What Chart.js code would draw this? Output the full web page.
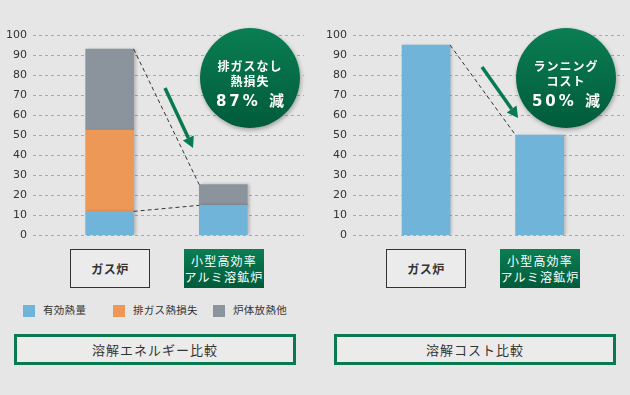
<!DOCTYPE html>
<html>
<head>
<meta charset="utf-8">
<script src="https://cdn.jsdelivr.net/npm/chart.js@4"></script>
<style>
  body { margin: 0; background: #e6e6e6; font-family: "Noto Sans CJK JP", sans-serif; color: #333; }
  #wrap { position: relative; width: 630px; height: 395px; overflow: hidden; }
  .cv { position: absolute; top: 0; }
  .circle {
    position: absolute; width: 100px; height: 100px; border-radius: 50%;
    background: linear-gradient(#0b7e53, #005b3b);
    box-shadow: 1px 2px 4px rgba(0,0,0,0.3);
    color: #fff; text-align: center; font-weight: bold;
  }
  .circle .l { position: absolute; left: 0; width: 100%; font-size: 12px; line-height: 14px; letter-spacing: 1px; }
  .circle .big { font-family: "DejaVu Sans", sans-serif; font-weight: bold; font-size: 15px; line-height: 18px; letter-spacing: 3px; }
  .circle .big b { font-family: "Noto Sans CJK JP"; font-weight: bold; letter-spacing: 0; }
  .cat {
    position: absolute; top: 249px; width: 80px; height: 39px; box-sizing: border-box;
    display: flex; align-items: center; justify-content: center; text-align: center;
    font-size: 12px; white-space: nowrap;
  }
  .cat.gas { border: 1.5px solid #333; background: #ebebeb; font-weight: bold; letter-spacing: 0.5px; }
  .cat.new { background: linear-gradient(#0b7e53, #005b3b); color: #fff; line-height: 16px; letter-spacing: 1.2px; }
  .leg { position: absolute; top: 305px; font-size: 10.5px; line-height: 12px; }
  .leg i { position: absolute; left: 0; top: 0; width: 12px; height: 12px; }
  .leg span { position: absolute; left: 20px; top: -1px; white-space: nowrap; letter-spacing: 0.3px; }
  .title {
    position: absolute; top: 334px; width: 282px; height: 31px; box-sizing: border-box;
    border: 3px solid #087a4f; background: #ebebeb;
    display: flex; align-items: center; justify-content: center; font-size: 13px; letter-spacing: 1px;
  }
</style>
</head>
<body>
<div id="wrap">
  <canvas id="c1" class="cv" style="left:0px" width="310" height="248"></canvas>
  <canvas id="c2" class="cv" style="left:320px" width="310" height="248"></canvas>

  <div class="circle" style="left:200px;top:28px">
    <div class="l" style="top:31px">排ガスなし</div>
    <div class="l" style="top:46px">熱損失</div>
    <div class="l big" style="top:63px">87% <b>減</b></div>
  </div>
  <div class="circle" style="left:516px;top:28px">
    <div class="l" style="top:31px">ランニング</div>
    <div class="l" style="top:46px">コスト</div>
    <div class="l big" style="top:63px">50% <b>減</b></div>
  </div>

  <div class="cat gas" style="left:70px">ガス炉</div>
  <div class="cat new" style="left:184px">小型高効率<br>アルミ溶鉱炉</div>
  <div class="cat gas" style="left:386px">ガス炉</div>
  <div class="cat new" style="left:500px">小型高効率<br>アルミ溶鉱炉</div>

  <div id="legend"></div>

  <div class="title" style="left:14px">溶解エネルギー比較</div>
  <div class="title" style="left:334px">溶解コスト比較</div>
</div>
<script>
// categories
const categories = ["ガス炉", "小型高効率アルミ溶鉱炉"];
// energy chart (stacked)
const usefulHeat = [12, 15];
const exhaustLoss = [40.5, 0];
const bodyLoss = [40.5, 10.3];
// cost chart
const runningCost = [95, 50];
const yTicks = [0, 10, 20, 30, 40, 50, 60, 70, 80, 90, 100];

const BLUE = "#71b4da", ORANGE = "#ee9857", GRAY = "#8b949d", GREEN = "#077a4f";

// legend (HTML)
const legendItems = [["有効熱量", BLUE, 23], ["排ガス熱損失", ORANGE, 113], ["炉体放熱他", GRAY, 213]];
document.getElementById("legend").innerHTML = legendItems.map(([t, c, x]) =>
  `<div class="leg" style="left:${x}px"><i style="background:${c}"></i><span>${t}</span></div>`).join("");

const toPts = arr => arr.map((v, i) => ({ x: i, y: v }));

// bar shadow on the right edge
const shadowPlugin = {
  id: "shadow",
  beforeDatasetsDraw(chart) {
    const ctx = chart.ctx;
    ctx.save();
    ctx.shadowColor = "rgba(0,0,0,0.22)";
    ctx.shadowOffsetX = 2;
    ctx.shadowBlur = 3;
  },
  afterDatasetsDraw(chart) { chart.ctx.restore(); }
};

function drawArrow(ctx, x1, y1, x2, y2) {
  const ang = Math.atan2(y2 - y1, x2 - x1);
  const hl = 11, hw = 6;
  const bx = x2 - hl * Math.cos(ang), by = y2 - hl * Math.sin(ang);
  ctx.save();
  ctx.strokeStyle = GREEN; ctx.fillStyle = GREEN; ctx.lineWidth = 3.5;
  ctx.beginPath(); ctx.moveTo(x1, y1); ctx.lineTo(bx, by); ctx.stroke();
  ctx.beginPath();
  ctx.moveTo(x2, y2);
  ctx.lineTo(bx + hw * Math.sin(ang), by - hw * Math.cos(ang));
  ctx.lineTo(bx - hw * Math.sin(ang), by + hw * Math.cos(ang));
  ctx.closePath(); ctx.fill();
  ctx.restore();
}

function dashed(ctx, a, b) {
  ctx.save();
  ctx.strokeStyle = "#333"; ctx.lineWidth = 1; ctx.setLineDash([4, 3]);
  ctx.beginPath(); ctx.moveTo(a[0], a[1]); ctx.lineTo(b[0], b[1]); ctx.stroke();
  ctx.restore();
}

// connectors: from right edge of first bar to left edge of second bar
function connectorPlugin(topSets, arrow) {
  return {
    id: "connector",
    afterDatasetsDraw(chart) {
      const ctx = chart.ctx;
      topSets.forEach(ds => {
        const m = chart.getDatasetMeta(ds);
        const b0 = m.data[0], b1 = m.data[1];
        dashed(ctx, [b0.x + b0.width / 2, b0.y], [b1.x - b1.width / 2, b1.y]);
      });
      drawArrow(ctx, arrow[0], arrow[1], arrow[2], arrow[3]);
    }
  };
}

function baseOptions(xmin, xmax) {
  return {
    responsive: false,
    animation: false,
    layout: { padding: { top: 35, bottom: 10.4, right: 6, left: 0 } },
    plugins: { legend: { display: false }, tooltip: { enabled: false } },
    scales: {
      x: { type: "linear", min: xmin, max: xmax, stacked: true, display: false, offset: false, grid: { offset: false } },
      y: {
        stacked: true, min: 0, max: 100,
        afterFit(s) { s.width = 33; },
        afterBuildTicks(s) { s.ticks = yTicks.map(v => ({ value: v })); },
        ticks: { color: "#333", padding: 6, font: { family: "DejaVu Sans", size: 11 } },
        grid: { color: "#a9a9a9", drawTicks: false, lineWidth: 1 },
        border: { display: false, dash: [3, 3] }
      }
    }
  };
}

new Chart(document.getElementById("c1"), {
  type: "bar",
  data: {
    datasets: [
      { label: "有効熱量", data: toPts(usefulHeat), backgroundColor: BLUE, barThickness: 48 },
      { label: "排ガス熱損失", data: toPts(exhaustLoss), backgroundColor: ORANGE, barThickness: 48 },
      { label: "炉体放熱他", data: toPts(bodyLoss), backgroundColor: GRAY, barThickness: 48 }
    ]
  },
  options: baseOptions(-0.675, 1.711),
  plugins: [shadowPlugin, connectorPlugin([2, 0], [165, 88, 193, 148])]
});

new Chart(document.getElementById("c2"), {
  type: "bar",
  data: {
    datasets: [
      { label: "ランニングコスト", data: toPts(runningCost), backgroundColor: BLUE, barThickness: 48 }
    ]
  },
  options: baseOptions(-0.643, 1.743),
  plugins: [shadowPlugin, connectorPlugin([0], [162, 67, 198, 118])]
});
</script>
</body>
</html>
